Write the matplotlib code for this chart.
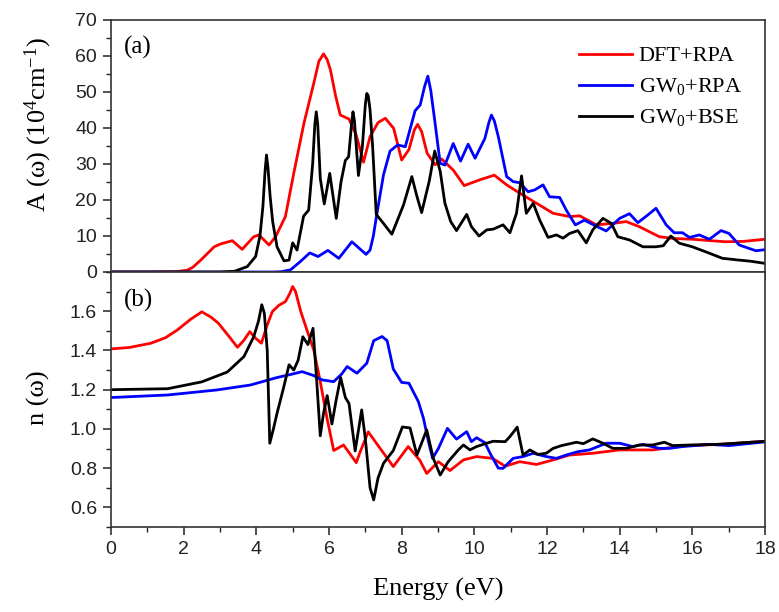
import matplotlib
matplotlib.use("Agg")
import matplotlib.pyplot as plt
from matplotlib.ticker import MultipleLocator

plt.rcParams['mathtext.fontset'] = 'custom'
plt.rcParams['mathtext.rm'] = 'Liberation Serif'
plt.rcParams['mathtext.it'] = 'Liberation Serif:italic'
plt.rcParams['mathtext.bf'] = 'Liberation Serif:bold'

labels = ["DFT+RPA", "GW$_0$+RPA", "GW$_0$+BSE"]
colors = ["#ff0000", "#0000ff", "#000000"]

# ---- panel (a): absorption A(omega) ----
e_dft_a = [0, 1.0, 1.8, 2.1, 2.25, 2.47, 2.84, 3.02, 3.34, 3.61, 3.93, 4.07, 4.35, 4.53, 4.80, 5.03,
           5.31, 5.58, 5.72, 5.85, 5.95, 6.04, 6.18, 6.31, 6.55, 6.75, 6.95, 7.13, 7.35, 7.55, 7.78,
           8.0, 8.2, 8.35, 8.44, 8.55, 8.70, 8.92, 9.1, 9.42, 9.72, 10.15, 10.55, 10.89, 11.25,
           11.71, 12.17, 12.62, 12.9, 13.36, 13.8, 14.18, 14.54, 15.09, 15.5, 16.0, 16.5, 16.92,
           17.4, 18.0]
a_dft = [0, 0, 0.1, 0.5, 1.3, 3.3, 7.0, 7.8, 8.7, 6.3, 9.8, 10.3, 7.5, 9.8, 15.4, 27.4,
         41.3, 52.4, 58.5, 60.6, 59.0, 56.1, 49.0, 43.6, 42.5, 38.0, 30.5, 37.6, 41.5, 42.7, 39.9,
         31.1, 34.0, 39.5, 41.0, 39.0, 33.0, 29.8, 31.4, 28.3, 24.0, 25.6, 26.9, 24.2, 21.9,
         19.1, 16.3, 15.4, 15.6, 13.1, 13.5, 14.0, 12.6, 9.8, 9.3, 9.1, 8.7, 8.4,
         8.5, 9.1]

e_gw_a = [0, 4.5, 4.7, 4.94, 5.2, 5.47, 5.70, 5.97, 6.27, 6.63, 7.02, 7.13, 7.22, 7.32, 7.5, 7.68,
          7.89, 8.10, 8.37, 8.51, 8.63, 8.72, 8.80, 8.92, 9.06, 9.19, 9.42, 9.62, 9.83, 10.02, 10.29,
          10.40, 10.47, 10.55, 10.66, 10.89, 11.07, 11.25, 11.48, 11.66, 11.89, 12.07, 12.35, 12.53,
          12.78, 13.03, 13.3, 13.63, 14.0, 14.27, 14.5, 14.77, 15.0, 15.28, 15.5, 15.73, 15.92,
          16.19, 16.47, 16.79, 17.01, 17.29, 17.75, 18.0]
a_gw = [0, 0, 0.1, 0.6, 2.8, 5.3, 4.3, 6.0, 3.8, 8.4, 4.9, 6.1, 10.0, 16.3, 27.0, 33.6,
        35.3, 34.8, 44.8, 46.4, 51.5, 54.4, 50.5, 41.3, 30.2, 29.7, 35.7, 30.8, 35.5, 31.6, 37.1,
        41.5, 43.6, 42.0, 37.6, 26.5, 25.1, 24.8, 22.3, 22.8, 24.2, 20.9, 20.7, 17.2,
        13.1, 14.4, 13.0, 11.4, 14.9, 16.2, 13.7, 15.8, 17.7, 13.1, 10.9, 10.9, 9.6,
        10.3, 9.1, 11.5, 10.7, 7.5, 5.9, 6.2]

e_bse_a = [0, 3.0, 3.4, 3.75, 3.98, 4.10, 4.18, 4.24, 4.28, 4.32, 4.38, 4.45, 4.57, 4.76, 4.9, 5.0,
           5.12, 5.3, 5.44, 5.55, 5.61, 5.65, 5.69, 5.76, 5.87, 6.02, 6.2, 6.33, 6.45, 6.54, 6.62,
           6.66, 6.70, 6.81, 6.92, 7.0, 7.04, 7.08, 7.13, 7.2, 7.3, 7.46, 7.73, 8.05, 8.28, 8.42,
           8.55, 8.76, 8.91, 9.06, 9.19, 9.35, 9.51, 9.79, 9.92, 10.13, 10.34, 10.52, 10.79,
           10.98, 11.16, 11.30, 11.43, 11.62, 11.8, 12.03, 12.26, 12.44, 12.62, 12.85, 13.08,
           13.26, 13.54, 13.77, 13.95, 14.27, 14.64, 15.0, 15.2, 15.41, 15.64, 16.0, 16.37,
           16.83, 17.29, 17.6, 18.0]
a_bse = [0, 0, 0.2, 1.5, 4.3, 10.0, 18.1, 28.0, 32.5, 29.0, 21.0, 14.0, 7.0, 3.1, 3.3, 8.1,
         6.1, 15.5, 17.2, 30.0, 41.0, 44.5, 41.0, 26.0, 18.9, 27.4, 14.9, 25.0, 31.0, 32.0, 41.0,
         44.5, 42.0, 26.8, 35.0, 46.5, 49.6, 49.0, 45.0, 35.0, 16.0, 14.0, 10.5, 18.6, 26.5, 21.0,
         16.5, 25.3, 33.6, 28.0, 19.1, 14.0, 11.5, 16.0, 12.6, 10.0, 11.7, 11.9, 13.1,
         10.9, 16.3, 26.7, 16.3, 19.1, 14.4, 9.6, 10.3, 9.4, 10.7, 11.5, 8.1,
         11.7, 14.9, 13.5, 9.8, 8.9, 7.0, 7.0, 7.3, 10.0, 8.0, 7.0, 5.6,
         3.8, 3.3, 3.0, 2.4]

# ---- panel (b): refractive index n(omega) ----
e_dft_n = [0, 0.5, 1.1, 1.5, 1.83, 2.2, 2.5, 2.75, 2.95, 3.25, 3.48, 3.65, 3.82, 3.98, 4.14,
           4.3, 4.44, 4.62, 4.80, 4.92, 5.0, 5.08, 5.22, 5.40, 5.58, 5.76, 5.95, 6.13, 6.40, 6.55,
           6.75, 6.86, 7.08, 7.41, 7.77, 8.18, 8.50, 8.69, 9.01, 9.33, 9.70, 10.06, 10.5, 10.85,
           11.25, 11.71, 12.17, 12.62, 13.26, 14.0, 14.91, 15.83, 16.74, 18.0]
n_dft = [1.408, 1.415, 1.437, 1.465, 1.505, 1.56, 1.597, 1.57, 1.54, 1.471, 1.416, 1.45, 1.496,
         1.462, 1.437, 1.53, 1.598, 1.63, 1.649, 1.69, 1.726, 1.70, 1.60, 1.50, 1.403, 1.241, 1.05,
         0.89, 0.918, 0.88, 0.828, 0.884, 0.985, 0.90, 0.808, 0.910, 0.84, 0.773, 0.833, 0.788,
         0.842, 0.859, 0.850, 0.81, 0.833, 0.819, 0.842, 0.867, 0.876, 0.893, 0.893, 0.915,
         0.921, 0.937]

e_gw_n = [0, 1.56, 2.93, 3.84, 4.57, 5.0, 5.26, 5.58, 5.81, 6.13, 6.35, 6.50, 6.77, 7.04, 7.23,
          7.46, 7.6, 7.77, 8.0, 8.2, 8.46, 8.60, 8.72, 8.85, 9.01, 9.26, 9.51, 9.79, 9.92, 10.06,
          10.29, 10.45, 10.66, 10.79, 11.07, 11.34, 11.62, 11.98, 12.26, 12.53, 12.85, 13.17,
          13.63, 14.0, 14.36, 14.64, 15.09, 15.37, 15.73, 16.47, 17.01, 18.0]
n_gw = [1.160, 1.173, 1.199, 1.224, 1.262, 1.28, 1.292, 1.272, 1.250, 1.241, 1.28, 1.318, 1.284,
        1.335, 1.45, 1.471, 1.45, 1.305, 1.237, 1.233, 1.139, 1.054, 0.95, 0.850, 0.90, 1.003,
        0.948, 0.986, 0.935, 0.955, 0.930, 0.87, 0.800, 0.799, 0.850, 0.859, 0.876, 0.859,
        0.850, 0.867, 0.884, 0.893, 0.927, 0.927, 0.910, 0.921, 0.901, 0.901, 0.910, 0.921,
        0.915, 0.934]

e_bse_n = [0, 1.56, 2.5, 3.2, 3.66, 3.93, 4.06, 4.15, 4.22, 4.30, 4.37, 4.47, 4.57, 4.75, 4.90,
           5.03, 5.15, 5.28, 5.42, 5.56, 5.66, 5.76, 5.85, 5.95, 6.08, 6.20, 6.32, 6.45, 6.55,
           6.72, 6.90, 7.0, 7.13, 7.23, 7.35, 7.50, 7.77, 8.02, 8.23, 8.42, 8.69, 8.87, 9.06,
           9.28, 9.56, 9.70, 9.88, 10.06, 10.34, 10.52, 10.85, 10.98, 11.18, 11.34, 11.53,
           11.75, 11.98, 12.17, 12.40, 12.81, 13.0, 13.26, 13.54, 13.81, 14.18, 14.54, 14.91,
           15.23, 15.46, 15.92, 16.65, 17.2, 18.0]
n_bse = [1.20, 1.205, 1.24, 1.29, 1.369, 1.471, 1.55, 1.633, 1.59, 1.40, 0.927, 1.0, 1.08, 1.21,
         1.327, 1.30, 1.35, 1.47, 1.43, 1.513, 1.25, 0.965, 1.08, 1.17, 1.025, 1.15, 1.262,
         1.16, 1.13, 0.888, 1.097, 0.95, 0.70, 0.638, 0.75, 0.825, 0.89, 1.01, 1.005, 0.867,
         0.995, 0.85, 0.765, 0.833, 0.893, 0.918, 0.893, 0.910, 0.927, 0.937, 0.935, 0.961,
         1.009, 0.867, 0.893, 0.87, 0.876, 0.901, 0.915, 0.932, 0.925, 0.949, 0.927, 0.901,
         0.901, 0.918, 0.918, 0.932, 0.915, 0.918, 0.921, 0.927, 0.937]

W, H = 779, 612
fig = plt.figure(figsize=(W / 100, H / 100), dpi=100)
left, right = 111 / W, 765 / W
ax1 = fig.add_axes([left, 1 - 272 / H, right - left, (272 - 20) / H])
ax2 = fig.add_axes([left, 1 - 527 / H, right - left, (527 - 272) / H])

lw = 2.0
for e, v, c, lab in [(e_dft_a, a_dft, colors[0], labels[0]),
                     (e_gw_a, a_gw, colors[1], labels[1]),
                     (e_bse_a, a_bse, colors[2], labels[2])]:
    ax1.plot(e, v, color=c, lw=lw, label=lab, solid_joinstyle='round')
for e, v, c in [(e_dft_n, n_dft, colors[0]),
                (e_gw_n, n_gw, colors[1]),
                (e_bse_n, n_bse, colors[2])]:
    ax2.plot(e, v, color=c, lw=lw, solid_joinstyle='round')

serif = 'Liberation Serif'

for ax in (ax1, ax2):
    ax.set_xlim(0, 18)
    ax.xaxis.set_major_locator(MultipleLocator(2))
    ax.xaxis.set_minor_locator(MultipleLocator(1))
    ax.tick_params(which='major', direction='out', length=6, width=1.1, colors='#222222',
                   top=False, right=False, pad=4)
    ax.tick_params(which='minor', direction='out', length=3.5, width=1.0, colors='#222222',
                   top=False, right=False)
    for s in ax.spines.values():
        s.set_linewidth(1.2)
        s.set_color('#333333')

ax1.set_ylim(0, 70)
ax1.yaxis.set_major_locator(MultipleLocator(10))
ax1.yaxis.set_minor_locator(MultipleLocator(5))
ax1.tick_params(axis='x', labelbottom=False)

ax2.set_ylim(0.5, 1.8)
ax2.yaxis.set_minor_locator(MultipleLocator(0.1))
ax2.set_yticks([0.6, 0.8, 1.0, 1.2, 1.4, 1.6])
ax2.set_yticklabels(['0.6', '0.8', '1.0', '1.2', '1.4', '1.6'])
ax2.set_xticks([0, 2, 4, 6, 8, 10, 12, 14, 16, 18])
ax2.set_xticklabels(['0', '2', '4', '6', '8', '10', '12', '14', '16', '18'])
for ax in (ax1, ax2):
    for lbl in ax.get_xticklabels() + ax.get_yticklabels():
        lbl.set_fontfamily('Liberation Sans')
        lbl.set_fontsize(14)
        lbl.set_color('#222222')

ax1.text(0.02, 0.935, '(a)', transform=ax1.transAxes, family=serif, fontsize=18,
         va='top', ha='left')
ax2.text(0.02, 0.935, '(b)', transform=ax2.transAxes, family=serif, fontsize=18,
         va='top', ha='left')

fig.text(38 / W, 1 - 125 / H, 'A (ω) (10$^4$cm$^{-1}$)', rotation=90, family=serif,
         fontsize=19, ha='center', va='center')
fig.text(38 / W, 1 - 398 / H, 'n (ω)', rotation=90, family=serif,
         fontsize=19, ha='center', va='center')
fig.text((111 + 765) / 2 / W, 1 - 589 / H, 'Energy (eV)', family=serif, fontsize=19,
         ha='center', va='center')

leg = ax1.legend(loc='upper right', bbox_to_anchor=(0.985, 0.95), frameon=False,
                 prop={'family': serif, 'size': 16}, handlelength=2.4, handletextpad=0.3,
                 labelspacing=0.45, borderaxespad=0.2)

fig.savefig('out.png', dpi=100)
